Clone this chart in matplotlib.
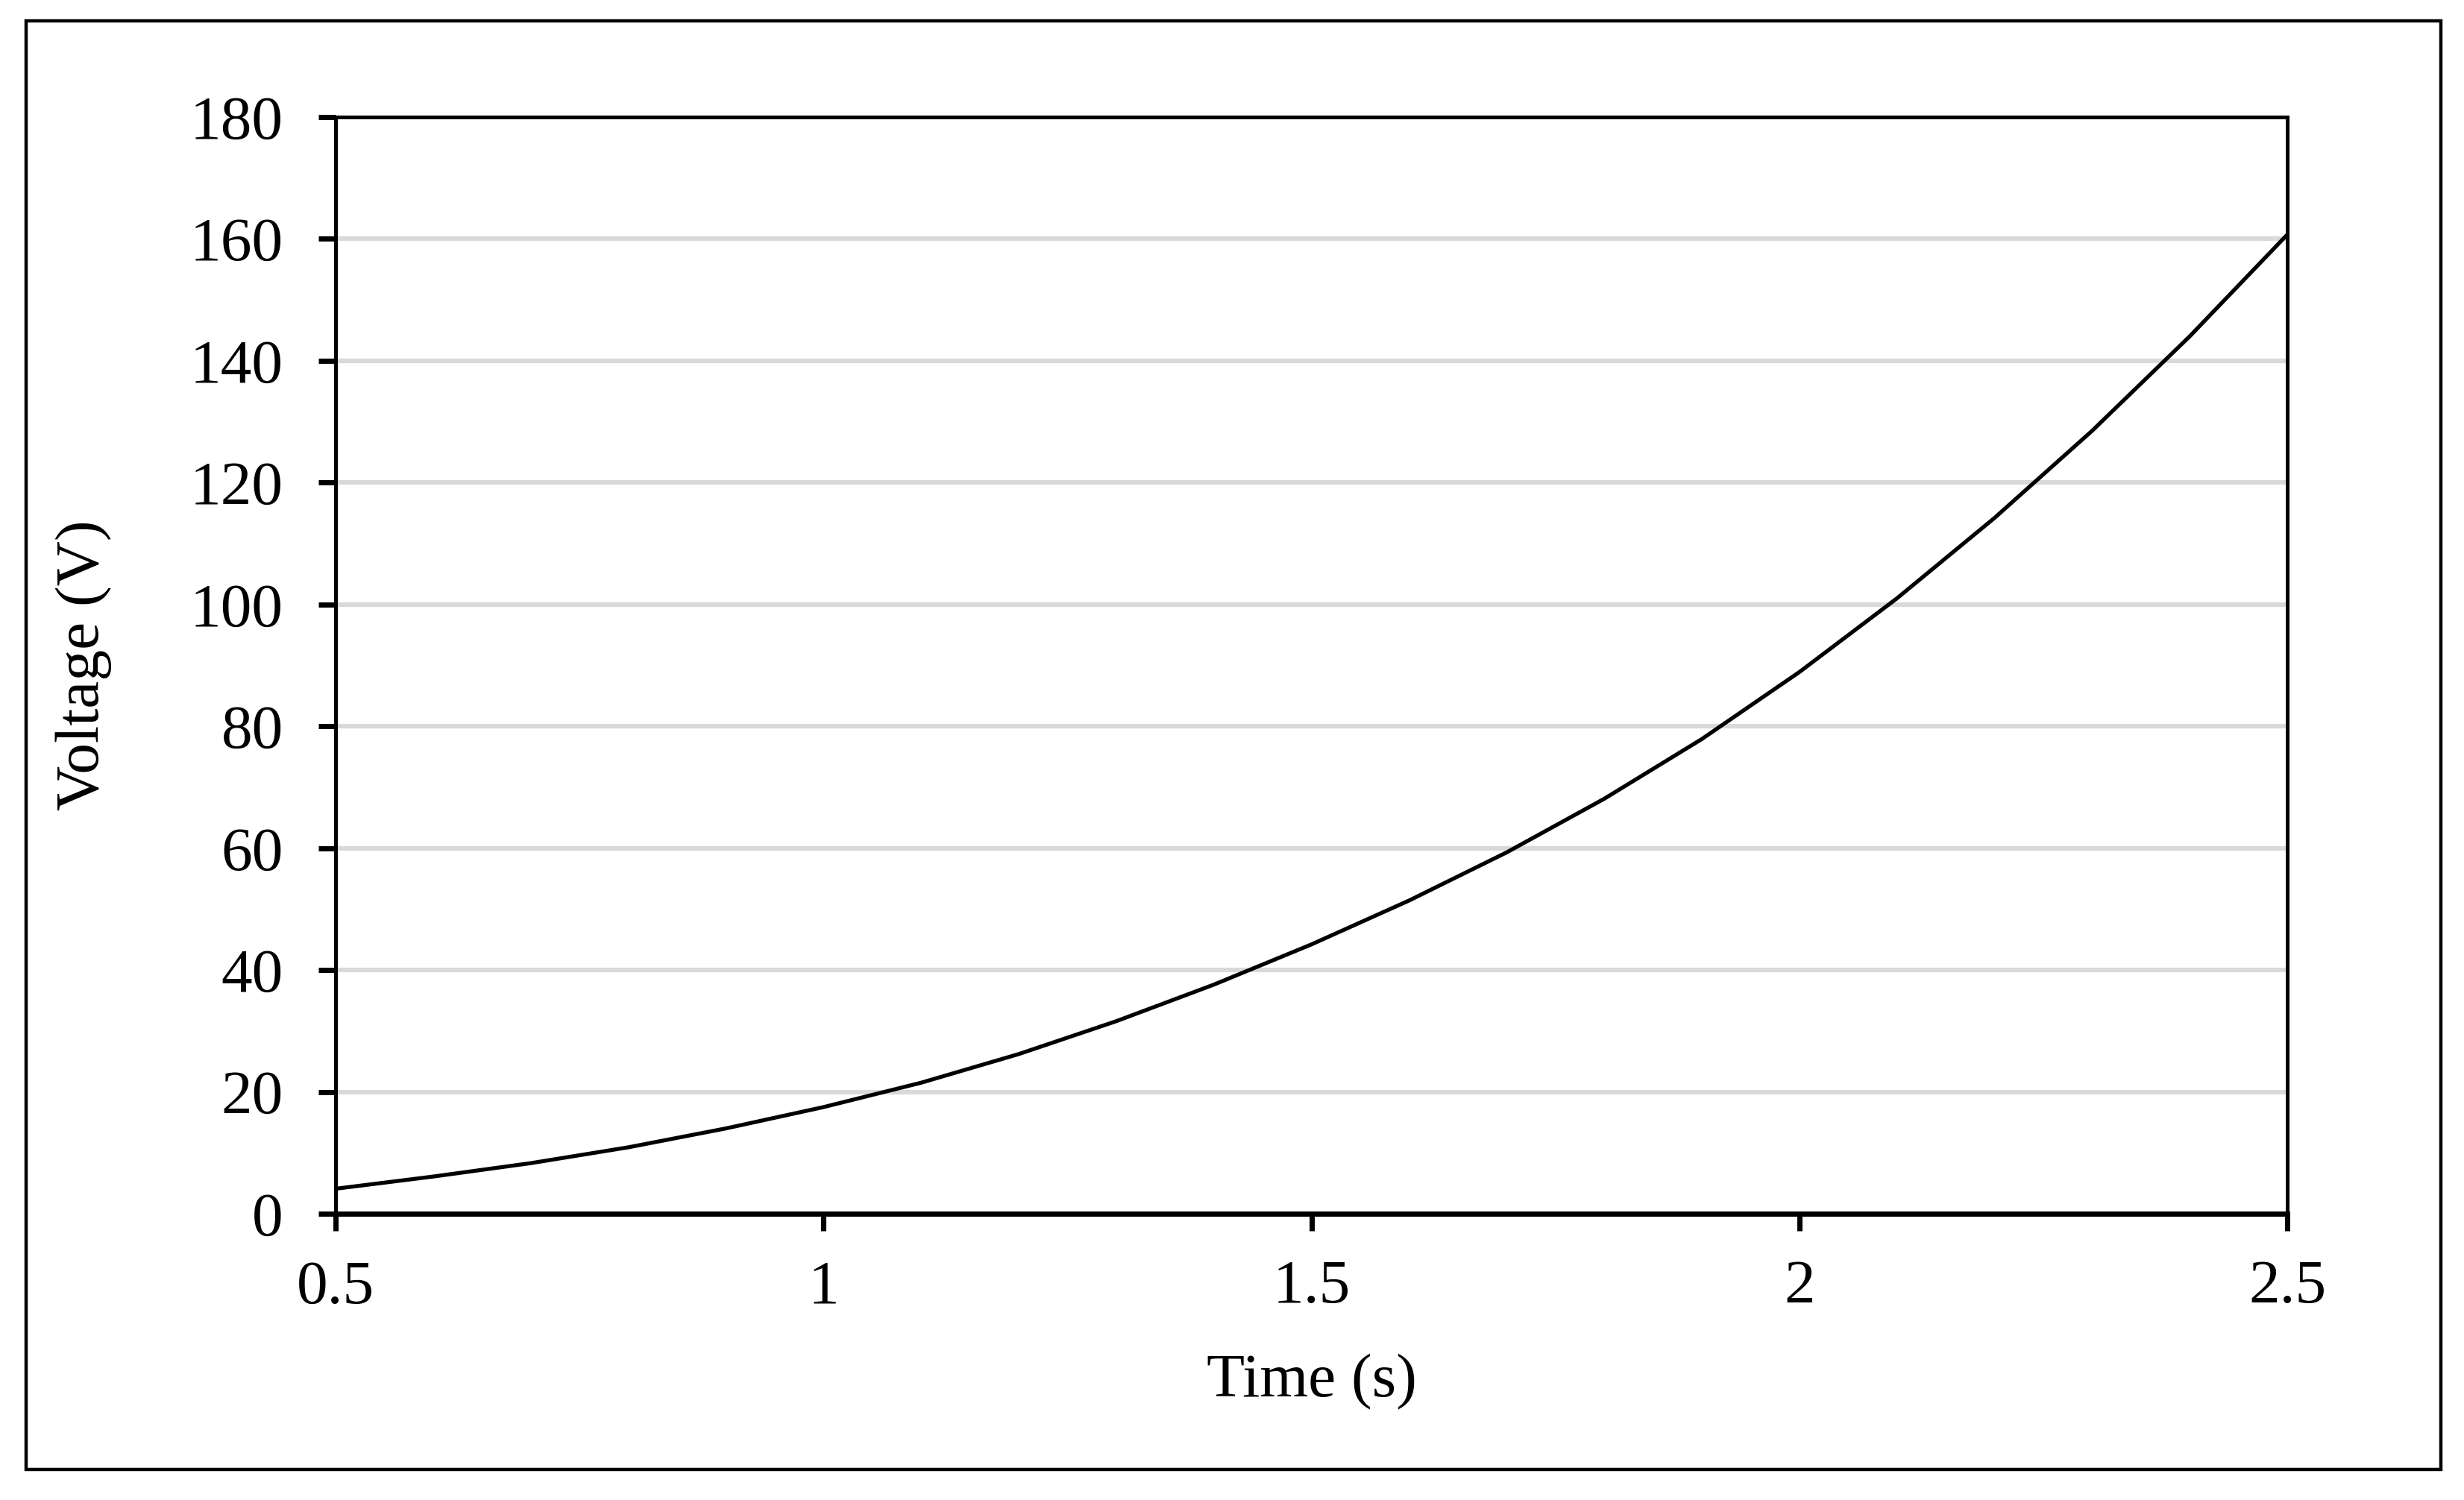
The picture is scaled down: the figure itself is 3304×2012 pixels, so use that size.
import matplotlib
matplotlib.use("Agg")
import matplotlib.pyplot as plt
from matplotlib.patches import Rectangle

# Data
time_s = [0.5, 0.6, 0.7, 0.8, 0.9, 1.0, 1.1, 1.2, 1.3, 1.4, 1.5,
          1.6, 1.7, 1.8, 1.9, 2.0, 2.1, 2.2, 2.3, 2.4, 2.5]
voltage_v = [4.1, 6.1, 8.3, 10.9, 14.0, 17.5, 21.5, 26.2, 31.6, 37.6, 44.2,
             51.4, 59.3, 68.1, 77.9, 88.9, 101.0, 114.2, 128.5, 144.0, 160.7]
x_ticks = [0.5, 1, 1.5, 2, 2.5]
x_tick_labels = ["0.5", "1", "1.5", "2", "2.5"]
y_ticks = [0, 20, 40, 60, 80, 100, 120, 140, 160, 180]
y_tick_labels = ["0", "20", "40", "60", "80", "100", "120", "140", "160", "180"]

plt.rcParams['font.family'] = ['Liberation Serif', 'DejaVu Serif']

W, H, DPI = 3304, 2012, 200
fig = plt.figure(figsize=(W / DPI, H / DPI), dpi=DPI)
fig.patch.set_facecolor('white')

ax_l, ax_r, ax_t, ax_b = 450, 3067, 157, 1628
ax = fig.add_axes([ax_l / W, 1 - ax_b / H, (ax_r - ax_l) / W, (ax_b - ax_t) / H])

ax.plot(time_s, voltage_v, color='black', linewidth=1.9, solid_joinstyle='round',
        solid_capstyle='round', zorder=3)

ax.set_xlim(0.5, 2.5)
ax.set_ylim(0, 180)
ax.set_xticks(x_ticks)
ax.set_xticklabels(x_tick_labels)
ax.set_yticks(y_ticks)
ax.set_yticklabels(y_tick_labels)

ax.yaxis.grid(True, color='#d9d9d9', linewidth=2.2, zorder=0)
ax.xaxis.grid(False)
ax.set_axisbelow(True)

for side in ['left', 'right', 'top']:
    ax.spines[side].set_linewidth(1.8)
    ax.spines[side].set_color('black')
ax.spines['bottom'].set_linewidth(2.5)
ax.spines['bottom'].set_color('black')

ax.tick_params(axis='both', direction='out', length=8.3, width=2.5, color='black',
               labelsize=30, labelcolor='black')
ax.tick_params(axis='x', pad=14)
ax.tick_params(axis='y', pad=17)
ax.tick_params(top=False, right=False)

ax.set_xlabel('Time (s)', fontsize=30, va='baseline')
ax.xaxis.set_label_coords(0.5, (ax_b - 1873) / (ax_b - ax_t))
ax.set_ylabel('Voltage (V)', fontsize=30)
ax.yaxis.set_label_coords((150 - ax_l) / (ax_r - ax_l), 0.5)

# outer frame
fl, fr, ft, fb = 35, 3273, 28, 1971
frame = Rectangle((fl / W, 1 - fb / H), (fr - fl) / W, (fb - ft) / H,
                  transform=fig.transFigure, fill=False, edgecolor='black',
                  linewidth=1.6, zorder=10)
fig.patches.append(frame)

fig.savefig('out.png', dpi=DPI, facecolor='white')
